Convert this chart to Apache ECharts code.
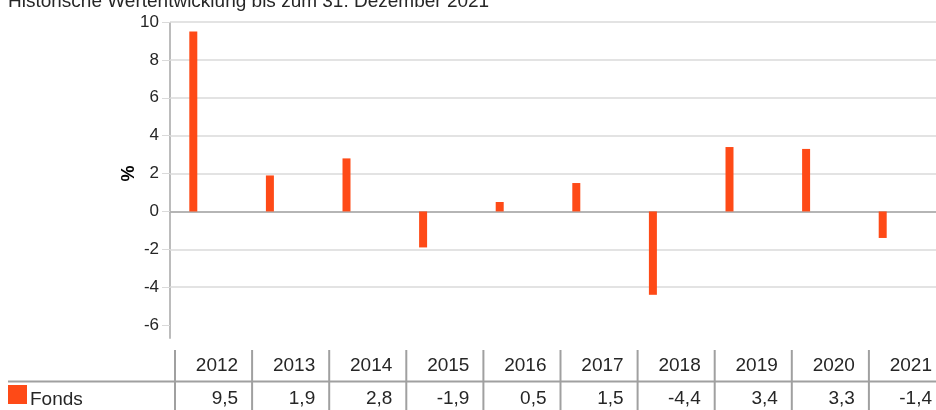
<!DOCTYPE html>
<html>
<head>
<meta charset="utf-8">
<script src="https://cdn.jsdelivr.net/npm/echarts@6/dist/echarts.min.js"></script>
<style>
  html, body { margin: 0; padding: 0; background: #fff; }
  #chart { width: 936px; height: 410px; }
</style>
</head>
<body>
<div id="chart"></div>
<script>
  // Jahreswerte in %
  const years = ['2012', '2013', '2014', '2015', '2016', '2017', '2018', '2019', '2020', '2021']
  const fonds = [9.5, 1.9, 2.8, -1.9, 0.5, 1.5, -4.4, 3.4, 3.3, -1.4]
  const yTicks = [-6, -4, -2, 0, 2, 4, 6, 8, 10]

  const textColor = '#262626'
  const barColor = '#fe4a17'
  const font = 'Liberation Sans'
  const axisBottom = -6.72   // unteres Ende der sichtbaren Achsenlinie

  const chart = echarts.init(document.getElementById('chart'))

  // Tabelle unter dem Diagramm
  const colLeft = 175
  const colW = 77.1
  const table = []
  table.push({
    type: 'line',
    shape: { x1: 8, y1: 381.5, x2: 936, y2: 381.5 },
    style: { stroke: '#a0a0a0', lineWidth: 2 }
  })
  years.forEach((y, i) => {
    const x = colLeft + i * colW
    table.push({
      type: 'line',
      shape: { x1: x, y1: 350, x2: x, y2: 410 },
      style: { stroke: '#a0a0a0', lineWidth: 2 }
    })
    table.push({
      type: 'text',
      x: x + colW - 14, y: 366,
      style: { text: y, fill: textColor, font: '19px ' + font, align: 'right', verticalAlign: 'middle' }
    })
    table.push({
      type: 'text',
      x: x + colW - 14, y: 399,
      style: { text: String(fonds[i]).replace('.', ','), fill: textColor, font: '19px ' + font, align: 'right', verticalAlign: 'middle' }
    })
  })

  chart.setOption({
    animation: false,
    title: {
      text: 'Historische Wertentwicklung bis zum 31. Dezember 2021',
      left: 3,
      top: -13,
      textStyle: { color: textColor, fontFamily: font, fontSize: 19, fontWeight: 'normal' }
    },
    legend: {
      data: ['Fonds'],
      left: 3,
      top: 380,
      icon: 'rect',
      itemWidth: 19,
      itemHeight: 19,
      itemGap: 10,
      formatter: '{t|{name}}',
      textStyle: {
        color: textColor,
        rich: { t: { color: textColor, fontFamily: font, fontSize: 19, padding: [10, 0, 0, -2] } }
      }
    },
    grid: { left: 170, right: 0, top: 22, bottom: 47 },
    xAxis: {
      type: 'category',
      data: years,
      axisLine: { onZero: true, lineStyle: { color: '#a6a6a6', width: 1.5 } },
      axisTick: { show: false },
      axisLabel: { show: false }
    },
    yAxis: {
      type: 'value',
      min: -8,
      max: 10,
      interval: 2,
      axisLine: { show: false },
      axisTick: { show: true, length: 8, customValues: yTicks, lineStyle: { color: '#dadada' } },
      axisLabel: {
        margin: 11,
        color: textColor,
        fontFamily: font,
        fontSize: 17,
        customValues: yTicks
      },
      splitLine: { show: true, showMinLine: false, lineStyle: { color: '#dadada', width: 1.5 } }
    },
    series: [
      {
        name: 'Fonds',
        type: 'bar',
        data: fonds,
        barWidth: 8,
        barGap: '275%',
        itemStyle: { color: barColor }
      },
      {
        // leere Reihe, verschiebt die Balken nach links
        name: 'leer',
        type: 'bar',
        data: years.map(() => null),
        barWidth: 8,
        silent: true
      }
    ],
    graphic: table
  })

  // senkrechte Achsenlinie nur bis zum sichtbaren unteren Ende
  const yTop = chart.convertToPixel({ yAxisIndex: 0 }, 10)
  const yBot = chart.convertToPixel({ yAxisIndex: 0 }, axisBottom)
  table.push({
    type: 'line',
    shape: { x1: 170, y1: yTop, x2: 170, y2: yBot },
    style: { stroke: '#a6a6a6', lineWidth: 1.5 }
  })
  // Achsentitel "%"
  table.push({
    type: 'text',
    x: 129, y: 173.5,
    rotation: Math.PI / 2,
    style: { text: '%', fill: '#000', font: 'bold 18px ' + font, align: 'center', verticalAlign: 'middle' }
  })
  chart.setOption({ graphic: table })
</script>
</body>
</html>
